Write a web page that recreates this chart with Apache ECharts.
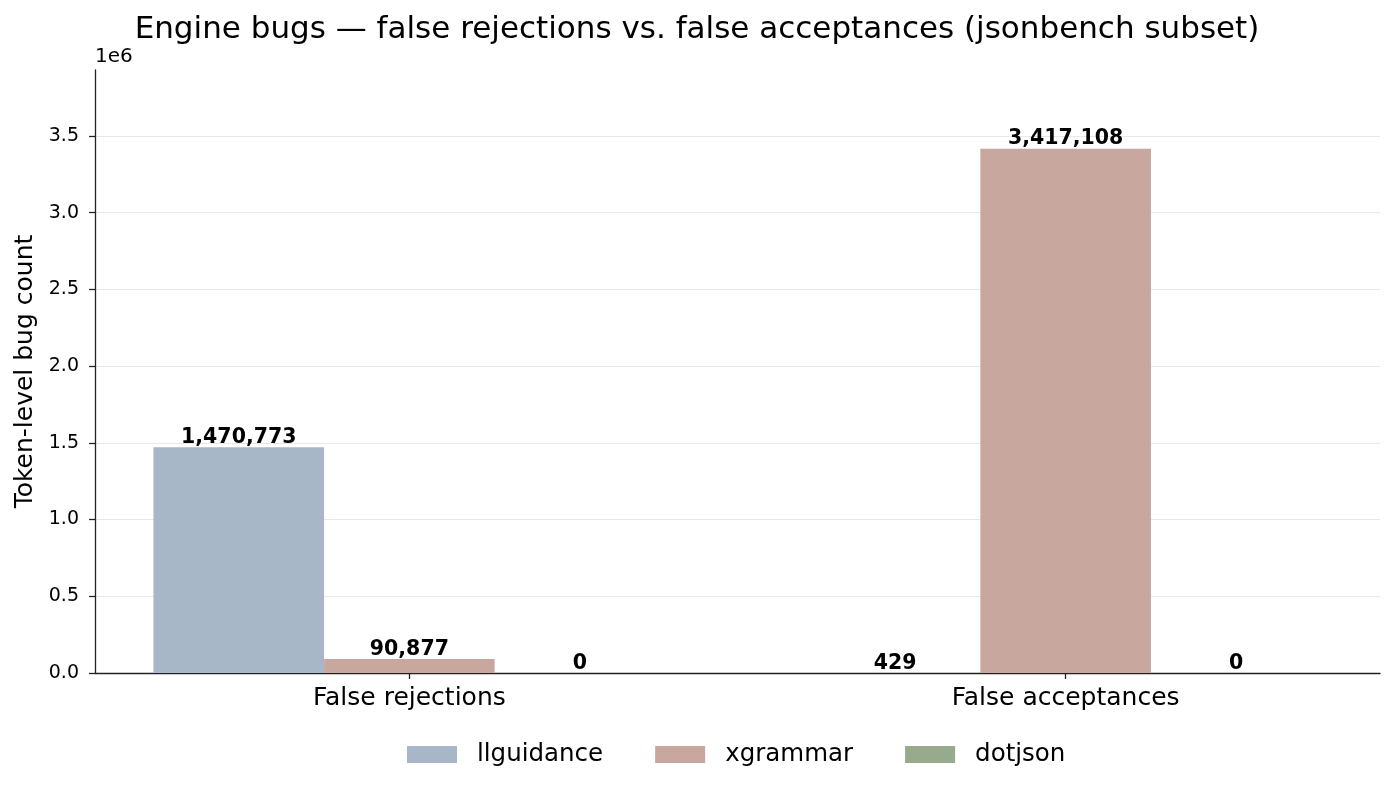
<!DOCTYPE html>
<html>
<head>
<meta charset="utf-8">
<script src="https://cdn.jsdelivr.net/npm/echarts@6/dist/echarts.min.js"></script>
<style>html,body{margin:0;padding:0;background:#fff}#c{width:1394px;height:793px}</style>
</head>
<body>
<div id="c"></div>
<script>
const categories = ["False rejections", "False acceptances"];
const engines = ["llguidance", "xgrammar", "dotjson"];
const llguidance = [1470773, 429];
const xgrammar = [90877, 3417108];
const dotjson = [0, 0];
const yTicks = [0, 500000, 1000000, 1500000, 2000000, 2500000, 3000000, 3500000];
const colors = ["#a8b7c8", "#c8a89e", "#97aa8c"];

const seriesValues = [llguidance, xgrammar, dotjson];
const FONT = "DejaVu Sans";
const maxVal = Math.max(...llguidance, ...xgrammar, ...dotjson) * 1.15;

const chart = echarts.init(document.getElementById('c'), null, {renderer: 'canvas'});
chart.setOption({
  animation: false,
  backgroundColor: '#fff',
  title: {
    text: 'Engine bugs \u2014 false rejections vs. false acceptances (jsonbench subset)',
    left: 'center', top: 9,
    textStyle: {fontFamily: FONT, fontSize: 31, fontWeight: 'normal', color: '#000'}
  },
  graphic: [{
    type: 'text', left: 95, top: 47,
    style: {text: '1e6', fontFamily: FONT, fontSize: 20, fill: '#000'}
  }],
  legend: {
    top: 737, left: 402,
    itemWidth: 50, itemHeight: 17, itemGap: 52,
    icon: 'rect',
    textStyle: {fontFamily: FONT, fontSize: 24.5, color: '#000', padding: [0, 0, 0, 15]},
    data: engines
  },
  grid: {left: 95, right: 14, top: 70, bottom: 120, containLabel: false},
  xAxis: {
    type: 'value', min: -0.479, max: 1.479,
    axisLine: {show: true, onZero: false, lineStyle: {color: '#222', width: 1.3}},
    axisTick: {show: true, customValues: [0, 1], length: 6, lineStyle: {color: '#222', width: 1.3}},
    axisLabel: {
      customValues: [0, 1], margin: 13,
      fontFamily: FONT, fontSize: 25, color: '#000',
      formatter: v => categories[Math.round(v)]
    },
    splitLine: {show: false}
  },
  yAxis: {
    type: 'value', min: 0, max: maxVal, interval: 500000,
    name: 'Token-level bug count', nameLocation: 'middle', nameGap: 57,
    nameTextStyle: {fontFamily: FONT, fontSize: 25, color: '#000'},
    axisLine: {show: true, onZero: false, lineStyle: {color: '#222', width: 1.3}},
    axisTick: {show: true, customValues: yTicks, length: 6, lineStyle: {color: '#222', width: 1.3}},
    axisLabel: {
      customValues: yTicks, margin: 16,
      fontFamily: FONT, fontSize: 19, color: '#000',
      formatter: v => (v / 1e6).toFixed(1)
    },
    splitLine: {show: true, showMaxLine: true, showMinLine: false, lineStyle: {color: '#e8e8e8', width: 1.2}}
  },
  series: engines.map((name, i) => ({
    name: name, type: 'bar',
    barWidth: 170.6, barGap: '0%',
    itemStyle: {color: colors[i]},
    label: {
      show: true, position: 'top', distance: -1,
      fontFamily: FONT, fontSize: 20.5, fontWeight: 'bold', color: '#000',
      formatter: p => Number(p.value[1]).toLocaleString('en-US')
    },
    data: seriesValues[i].map((v, j) => [j, v])
  }))
});
</script>
</body>
</html>
